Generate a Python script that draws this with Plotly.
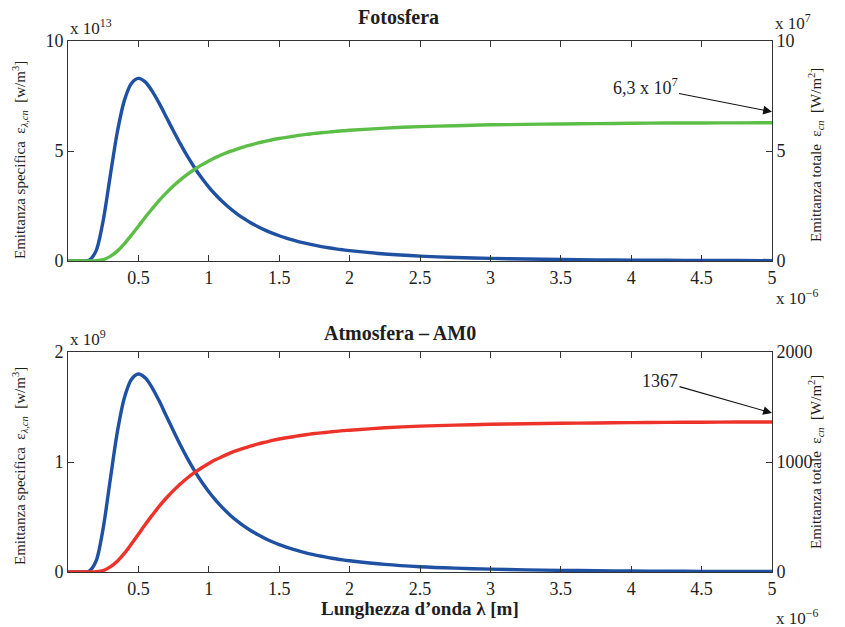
import plotly.graph_objects as go

# wavelength in micrometres (axis multiplier x 10^-6)
lam = [0, 0.05, 0.1, 0.15, 0.2, 0.25, 0.3, 0.35, 0.4, 0.45, 0.5, 0.55, 0.6, 0.65, 0.7, 0.75,
       0.8, 0.85, 0.9, 0.95, 1.0, 1.05, 1.1, 1.15, 1.2, 1.25, 1.3, 1.35, 1.4, 1.45, 1.5, 1.55,
       1.6, 1.65, 1.7, 1.75, 1.8, 1.85, 1.9, 1.95, 2.0, 2.25, 2.5, 2.75, 3.0, 3.25, 3.5, 3.75,
       4.0, 4.25, 4.5, 4.75, 5.0]

# Fotosfera: spectral emittance (x 1e13 W/m^3) and cumulative total (x 1e7 W/m^2)
spec_foto = [0, 0, 0, 0.032, 0.47, 1.84, 3.87, 5.85, 7.29, 8.07, 8.30, 8.13, 7.70, 7.14, 6.52, 5.90,
             5.30, 4.74, 4.23, 3.77, 3.36, 3.00, 2.68, 2.395, 2.145, 1.924, 1.728, 1.556, 1.403, 1.268,
             1.148, 1.041, 0.946, 0.862, 0.786, 0.718, 0.657, 0.603, 0.553, 0.509, 0.469, 0.318,
             0.222, 0.160, 0.118, 0.0887, 0.068, 0.053, 0.0419, 0.0336, 0.0272, 0.0222, 0.0184]
tot_foto = [0, 0, 0, 0.0003, 0.011, 0.061, 0.21, 0.45, 0.78, 1.17, 1.58, 2.00, 2.39, 2.77, 3.11, 3.42,
            3.70, 3.95, 4.17, 4.37, 4.55, 4.71, 4.85, 4.98, 5.09, 5.19, 5.28, 5.37, 5.44, 5.51,
            5.57, 5.62, 5.67, 5.72, 5.76, 5.80, 5.83, 5.86, 5.89, 5.92, 5.94, 6.04,
            6.11, 6.15, 6.19, 6.21, 6.23, 6.245, 6.26, 6.27, 6.275, 6.28, 6.285]

# Atmosfera AM0: spectral emittance (x 1e9 W/m^3) and cumulative total (W/m^2)
spec_atm = [0, 0, 0, 0.0069, 0.102, 0.399, 0.839, 1.269, 1.581, 1.750, 1.800, 1.763, 1.670, 1.549,
            1.414, 1.280, 1.150, 1.028, 0.917, 0.818, 0.730, 0.651, 0.581, 0.519, 0.465, 0.417,
            0.375, 0.338, 0.304, 0.275, 0.249, 0.226, 0.205, 0.187, 0.170, 0.156, 0.143, 0.131,
            0.120, 0.110, 0.102, 0.069, 0.048, 0.035, 0.026, 0.019, 0.015, 0.0115, 0.0091,
            0.0073, 0.0059, 0.0048, 0.0040]
tot_atm = [0, 0, 0, 0.07, 2.4, 13, 46, 98, 169, 254, 343, 434, 519, 601, 675, 742, 803, 857, 905,
           948, 987, 1022, 1052, 1081, 1105, 1126, 1146, 1165, 1180, 1196, 1209, 1220, 1230, 1241,
           1250, 1259, 1265, 1272, 1278, 1285, 1289, 1311, 1326, 1335, 1343, 1348, 1352, 1355,
           1358, 1360, 1362, 1363, 1364]

x_ticks = [0.5, 1, 1.5, 2, 2.5, 3, 3.5, 4, 4.5, 5]
x_ticktext = ["0.5", "1", "1.5", "2", "2.5", "3", "3.5", "4", "4.5", "5"]

BLUE = "#1f51a3"
GREEN = "#5cbe46"
RED = "#ec3229"
FONT = "Liberation Serif"
TXT = "#1e1e1e"

W, H = 845, 627
L, R, T, B = 68, 73, 41, 55
PW, PH = W - L - R, H - T - B


def px(xp):
    return (xp - L) / PW


def py(yp):
    return (H - B - yp) / PH


top_dom = [py(261), 1.0]
bot_dom = [0.0, py(352)]

fig = go.Figure()
line_kw = dict(shape="spline", smoothing=0.8, width=3.4)
fig.add_trace(go.Scatter(x=lam, y=spec_foto, mode="lines", line=dict(color=BLUE, **line_kw),
                         xaxis="x", yaxis="y", showlegend=False))
fig.add_trace(go.Scatter(x=lam, y=tot_foto, mode="lines", line=dict(color=GREEN, **line_kw),
                         xaxis="x", yaxis="y2", showlegend=False))
fig.add_trace(go.Scatter(x=lam, y=spec_atm, mode="lines", line=dict(color=BLUE, **line_kw),
                         xaxis="x2", yaxis="y3", showlegend=False))
fig.add_trace(go.Scatter(x=lam, y=tot_atm, mode="lines", line=dict(color=RED, **line_kw),
                         xaxis="x2", yaxis="y4", showlegend=False))

ax_common = dict(showline=True, linecolor="#333333", linewidth=1, ticks="inside", ticklen=6,
                 tickcolor="#333333", showgrid=False, zeroline=False,
                 tickfont=dict(family=FONT, size=18, color=TXT))

fig.update_layout(
    width=W, height=H,
    margin=dict(l=L, r=R, t=T, b=B),
    paper_bgcolor="white", plot_bgcolor="white",
    xaxis=dict(domain=[0, 1], anchor="y", range=[0, 5], tickvals=x_ticks, ticktext=x_ticktext,
               mirror="ticks", **ax_common),
    yaxis=dict(domain=top_dom, anchor="x", range=[0, 10], tickvals=[0, 5, 10], **ax_common),
    yaxis2=dict(overlaying="y", side="right", anchor="x", range=[0, 10], tickvals=[0, 5, 10], **ax_common),
    xaxis2=dict(domain=[0, 1], anchor="y3", range=[0, 5], tickvals=x_ticks, ticktext=x_ticktext,
                mirror="ticks", **ax_common),
    yaxis3=dict(domain=bot_dom, anchor="x2", range=[0, 2], tickvals=[0, 1, 2], **ax_common),
    yaxis4=dict(overlaying="y3", side="right", anchor="x2", range=[0, 2000],
                tickvals=[0, 1000, 2000], **ax_common),
)

ann = []


def txt(text, xp, yp, size=15, xanchor="center", yanchor="middle", angle=0):
    ann.append(dict(text=text, x=px(xp), y=py(yp), xref="paper", yref="paper", showarrow=False,
                    xanchor=xanchor, yanchor=yanchor, textangle=angle,
                    font=dict(family=FONT, size=size, color=TXT)))


txt("<b>Fotosfera</b>", 398, 17, size=20)
txt("<b>Atmosfera – AM0</b>", 400, 333, size=20)
txt("<b>Lunghezza d’onda λ [m]</b>", 420, 608, size=19)
txt("x 10<sup>13</sup>", 68, 27, size=17, xanchor="left")
txt("x 10<sup>7</sup>", 773, 22, size=17, xanchor="left")
txt("x 10<sup>−6</sup>", 774, 297, size=17, xanchor="left")
txt("x 10<sup>9</sup>", 68, 338, size=17, xanchor="left")
txt("x 10<sup>−6</sup>", 774, 617, size=17, xanchor="left")
txt("Emittanza specifica  ε<sub><i>λ,cn</i></sub>  [w/m<sup>3</sup>]", 20, 160, size=15, angle=-90)
txt("Emittanza totale  ε<sub><i>cn</i></sub>  [W/m<sup>2</sup>]", 816, 155, size=15, angle=-90)
txt("Emittanza specifica  ε<sub><i>λ,cn</i></sub>  [w/m<sup>3</sup>]", 20, 466, size=15, angle=-90)
txt("Emittanza totale  ε<sub><i>cn</i></sub>  [W/m<sup>2</sup>]", 816, 462, size=15, angle=-90)

ann.append(dict(text="6,3 x 10<sup>7</sup>", x=5, y=6.78, xref="x", yref="y2", showarrow=True,
                ax=-127, ay=-25, arrowhead=2, arrowsize=1.6, arrowwidth=1.1, arrowcolor="#111111",
                font=dict(family=FONT, size=18, color=TXT)))
ann.append(dict(text="1367", x=5, y=1445, xref="x2", yref="y4", showarrow=True,
                ax=-112, ay=-32, arrowhead=2, arrowsize=1.6, arrowwidth=1.1, arrowcolor="#111111",
                font=dict(family=FONT, size=18, color=TXT)))

fig.update_layout(annotations=ann)
fig.write_html("out.html")
